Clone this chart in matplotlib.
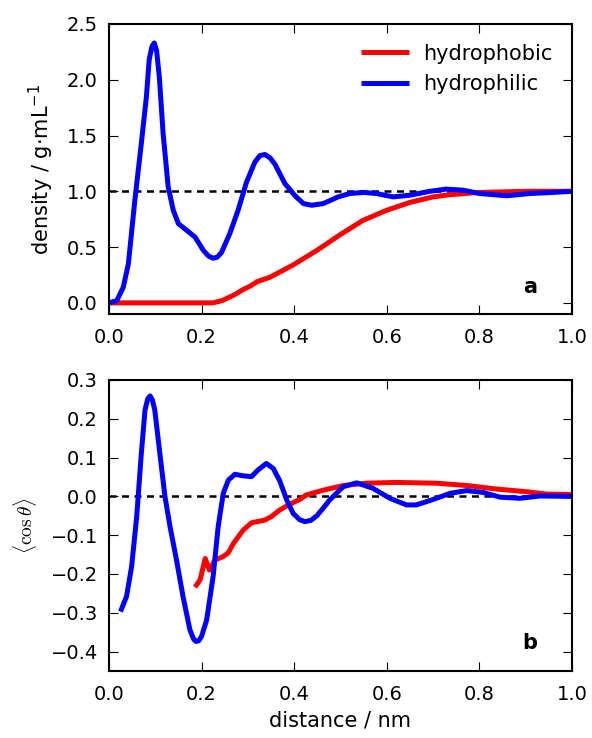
import matplotlib
matplotlib.use("Agg")
import matplotlib.pyplot as plt

# ---- density panel data ----
phil_x = [0.0, 0.017, 0.031, 0.042, 0.056, 0.070, 0.081, 0.087, 0.093, 0.098, 0.103, 0.109, 0.117, 0.128,
          0.139, 0.150, 0.168, 0.186, 0.204, 0.215, 0.225, 0.234, 0.243, 0.261, 0.279, 0.297, 0.315, 0.326, 0.337,
          0.348, 0.359, 0.380, 0.402, 0.420, 0.438, 0.463, 0.495, 0.520, 0.550, 0.578, 0.614, 0.650,
          0.693, 0.729, 0.765, 0.801, 0.859, 0.909, 0.960, 1.0]
phil_rho = [0.0, 0.02, 0.14, 0.35, 0.92, 1.43, 1.85, 2.18, 2.30, 2.33, 2.26, 2.02, 1.52, 1.04,
            0.83, 0.71, 0.65, 0.59, 0.47, 0.42, 0.40, 0.41, 0.45, 0.62, 0.83, 1.08, 1.26, 1.32, 1.33,
            1.30, 1.24, 1.07, 0.96, 0.89, 0.875, 0.89, 0.95, 0.98, 0.99, 0.98, 0.95, 0.965,
            1.0, 1.02, 1.01, 0.98, 0.96, 0.98, 0.99, 1.0]
phob_x = [0.0, 0.10, 0.20, 0.225, 0.244, 0.270, 0.290, 0.305, 0.320, 0.348, 0.398, 0.449,
          0.499, 0.549, 0.600, 0.650, 0.700, 0.737, 0.800, 0.900, 1.0]
phob_rho = [0.0, 0.0, 0.0, 0.0, 0.02, 0.07, 0.12, 0.15, 0.19, 0.23, 0.34, 0.47,
            0.61, 0.74, 0.83, 0.90, 0.95, 0.97, 0.99, 1.0, 1.0]

# ---- orientation panel data ----
phil_cx = [0.025, 0.038, 0.049, 0.060, 0.070, 0.078, 0.084, 0.089, 0.094, 0.099, 0.110, 0.121, 0.132, 0.146,
           0.160, 0.175, 0.183, 0.188, 0.194, 0.200, 0.211, 0.225, 0.236, 0.247, 0.258, 0.272, 0.290, 0.308,
           0.322, 0.340, 0.355, 0.369, 0.384, 0.398, 0.412, 0.423, 0.436, 0.449, 0.463, 0.477, 0.506, 0.535, 0.570,
           0.607, 0.643, 0.664, 0.700, 0.737, 0.773, 0.809, 0.845, 0.888, 0.931, 1.0]
phil_cos = [-0.297, -0.258, -0.181, -0.052, 0.111, 0.223, 0.252, 0.259, 0.248, 0.223, 0.111, 0.0, -0.078, -0.164,
            -0.258, -0.344, -0.368, -0.374, -0.372, -0.361, -0.319, -0.207, -0.078, 0.008, 0.042, 0.057, 0.053, 0.051,
            0.068, 0.085, 0.072, 0.040, -0.009, -0.044, -0.060, -0.065, -0.062, -0.050, -0.030, -0.009, 0.025, 0.035, 0.021,
            -0.005, -0.022, -0.022, -0.008, 0.008, 0.015, 0.010, -0.002, -0.005, 0.001, 0.0]
phob_cx = [0.186, 0.197, 0.208, 0.217, 0.229, 0.247, 0.258, 0.269, 0.290, 0.308, 0.337, 0.351,
           0.369, 0.391, 0.412, 0.427, 0.463, 0.506, 0.556, 0.620, 0.707, 0.773, 0.837, 0.902,
           0.945, 1.0]
phob_cos = [-0.234, -0.215, -0.160, -0.190, -0.164, -0.155, -0.145, -0.121, -0.087, -0.068, -0.061, -0.052,
            -0.035, -0.020, -0.008, 0.004, 0.016, 0.028, 0.034, 0.036, 0.034, 0.028, 0.019, 0.012,
            0.006, 0.005]

labels = ["hydrophobic", "hydrophilic"]
colors = ["red", "blue"]

plt.rcParams.update({
    "font.family": "DejaVu Sans",
    "font.size": 14,
    "xtick.direction": "in",
    "ytick.direction": "in",
    "xtick.top": True,
    "ytick.right": True,
    "xtick.major.size": 6.5,
    "ytick.major.size": 6.5,
    "xtick.major.pad": 10,
    "ytick.major.pad": 8,
    "axes.linewidth": 1.5,
    "lines.solid_joinstyle": "round",
    "lines.solid_capstyle": "butt",
})

fig = plt.figure(figsize=(5.92, 7.38), dpi=100)
ax1 = fig.add_axes([0.184, 0.5745, 0.782, 0.393])
ax2 = fig.add_axes([0.184, 0.0908, 0.782, 0.3943])

LW = 3.6
ax1.axhline(1.0, color="black", ls="--", lw=1.8, dashes=(2.8, 2.2))
ax1.plot(phob_x, phob_rho, color=colors[0], lw=LW, label=labels[0])
ax1.plot(phil_x, phil_rho, color=colors[1], lw=LW, label=labels[1])
ax1.set_xlim(0, 1)
ax1.set_ylim(-0.1, 2.5)
ax1.set_yticks([0.0, 0.5, 1.0, 1.5, 2.0, 2.5])
ax1.set_xticks([0.0, 0.2, 0.4, 0.6, 0.8, 1.0])
ax1.set_ylabel(r"density / g$\cdot$mL$^{-1}$", fontsize=15, labelpad=8)
ax1.legend(loc="upper right", frameon=False, handlelength=2.3, fontsize=15,
           borderaxespad=0.45, handletextpad=0.65, labelspacing=0.5,
           borderpad=0.5)
ax1.text(0.925, 0.093, "a", transform=ax1.transAxes, fontweight="bold",
         ha="right", va="center", fontsize=15)

ax2.axhline(0.0, color="black", ls="--", lw=1.8, dashes=(2.8, 2.2))
ax2.plot(phob_cx, phob_cos, color=colors[0], lw=LW)
ax2.plot(phil_cx, phil_cos, color=colors[1], lw=LW)
ax2.set_xlim(0, 1)
ax2.set_ylim(-0.45, 0.3)
ax2.set_yticks([-0.4, -0.3, -0.2, -0.1, 0.0, 0.1, 0.2, 0.3])
ax2.set_xticks([0.0, 0.2, 0.4, 0.6, 0.8, 1.0])
ax2.set_ylabel(r"$\langle \cos\theta \rangle$", math_fontfamily="cm", fontsize=14, labelpad=8)
ax2.set_xlabel("distance / nm", fontsize=15, labelpad=5)
ax2.text(0.925, 0.096, "b", transform=ax2.transAxes, fontweight="bold",
         ha="right", va="center", fontsize=15)

fig.savefig("out.png", dpi=100)
